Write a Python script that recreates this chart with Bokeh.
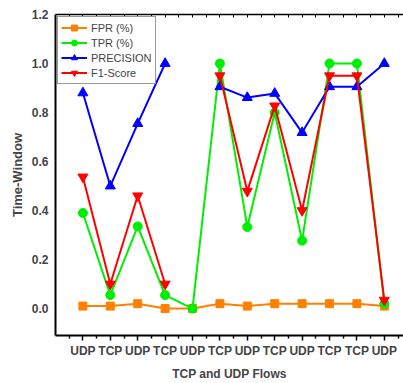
import numpy as np
from bokeh.plotting import figure
from bokeh.models import FixedTicker, LinearAxis, Range1d, PrintfTickFormatter
from bokeh.embed import file_html
from bokeh.resources import INLINE

flows = ["UDP", "TCP", "UDP", "TCP", "UDP", "TCP", "UDP", "TCP", "UDP", "TCP", "TCP", "UDP"]
fpr = [0.01, 0.01, 0.02, 0.0, 0.0, 0.02, 0.01, 0.02, 0.02, 0.02, 0.02, 0.01]
tpr = [0.39, 0.055, 0.335, 0.055, 0.0, 1.0, 0.333, 0.80, 0.277, 1.0, 1.0, 0.02]
precision = [0.88, 0.50, 0.755, 1.0, np.nan, 0.905, 0.861, 0.878, 0.718, 0.905, 0.905, 1.0]
f1 = [0.537, 0.10, 0.46, 0.10, np.nan, 0.95, 0.479, 0.827, 0.40, 0.95, 0.95, 0.034]
y_ticks = [0.0, 0.2, 0.4, 0.6, 0.8, 1.0, 1.2]

xs = list(range(1, len(flows) + 1))
half_ticks = [i + 0.5 for i in range(0, 13)]

p = figure(width=403, height=383, x_range=Range1d(0, 12.7), y_range=Range1d(-0.11, 1.2),
           output_backend="svg", toolbar_location=None,
           min_border_left=55, min_border_right=0, min_border_top=14, min_border_bottom=46)
p.xgrid.visible = False
p.ygrid.visible = False
p.outline_line_color = None
p.background_fill_color = "white"
p.border_fill_color = "white"

FONT = "Liberation Sans"

# bottom axis
xa = p.xaxis[0]
xa.ticker = FixedTicker(ticks=xs, minor_ticks=half_ticks)
xa.major_label_overrides = {x: lbl for x, lbl in zip(xs, flows)}
xa.major_label_text_font = FONT
xa.major_label_text_font_style = "bold"
xa.major_label_text_font_size = "12px"
xa.major_label_standoff = 3
xa.axis_label = "TCP and UDP Flows"
xa.axis_label_text_font = FONT
xa.axis_label_text_font_style = "bold"
xa.axis_label_text_font_size = "12px"
xa.axis_label_standoff = 6
xa.axis_line_width = 2
xa.major_tick_out = 5
xa.major_tick_in = 0
xa.minor_tick_out = 3
xa.minor_tick_in = 0
xa.major_tick_line_width = 1.5
xa.minor_tick_line_width = 1.5

# left axis
ya = p.yaxis[0]
ya.ticker = FixedTicker(ticks=y_ticks, minor_ticks=[])
ya.formatter = PrintfTickFormatter(format="%.1f")
ya.major_label_text_font = FONT
ya.major_label_text_font_style = "bold"
ya.major_label_text_font_size = "12px"
ya.major_label_standoff = 7
ya.axis_label = "Time-Window"
ya.axis_label_text_font = FONT
ya.axis_label_text_font_style = "bold"
ya.axis_label_text_font_size = "13px"
ya.axis_label_standoff = 4
ya.axis_line_width = 2
ya.major_tick_out = 0
ya.major_tick_in = 0
ya.minor_tick_out = 0
ya.minor_tick_in = 0

# top spine with small inward ticks (no labels)
top = LinearAxis(ticker=FixedTicker(ticks=[], minor_ticks=half_ticks + xs),
                 minor_tick_in=3, minor_tick_out=0, major_tick_in=0, major_tick_out=0,
                 axis_line_width=1.5, minor_tick_line_width=1)
p.add_layout(top, "above")

series = [
    ("FPR (%)", fpr, "#FF8000", "square", 8),
    ("TPR (%)", tpr, "#00EE00", "circle", 9),
    ("PRECISION", precision, "#0000FF", "triangle", 10),
    ("F1-Score", f1, "#FF0000", "inverted_triangle", 10),
]
for name, ys, color, marker, size in series:
    p.line(xs, ys, line_color=color, line_width=2, legend_label=name)
    p.scatter(xs, ys, marker=marker, size=size, fill_color=color, line_color=color,
              legend_label=name)

lg = p.legend[0]
lg.location = "top_left"
lg.margin = 2
lg.padding = 3
lg.spacing = 0
lg.label_height = 15
lg.glyph_height = 15
lg.glyph_width = 26
lg.label_standoff = 4
lg.label_text_font = FONT
lg.label_text_font_size = "11px"
lg.border_line_color = "#333333"
lg.border_line_width = 1
lg.background_fill_alpha = 1

open("out.html", "w").write(file_html(p, INLINE))
